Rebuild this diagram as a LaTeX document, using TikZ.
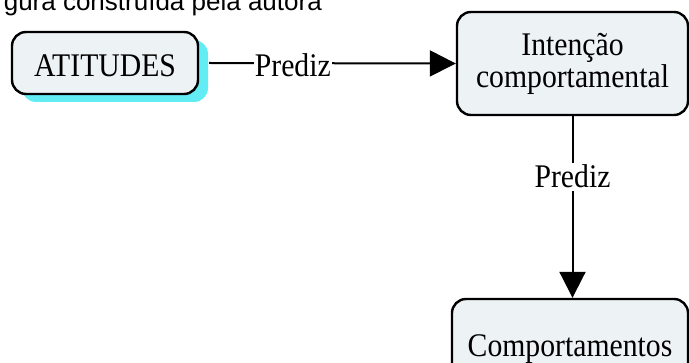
\documentclass[tikz,border=0pt]{standalone}
\usepackage{fontspec}
\usetikzlibrary{arrows.meta}
\newfontfamily\diagfont[FakeStretch=0.9]{Liberation Serif}
\newfontfamily\capfont{Liberation Sans}
\definecolor{boxfill}{HTML}{EDF2F5}
\definecolor{shadowcyan}{HTML}{62EDF4}
\tikzset{
  concept/.style={draw=black, line width=2.4pt, fill=boxfill, rounded corners=14pt,
    font=\diagfont\fontsize{33}{32}\selectfont, align=center, inner sep=0pt},
  link/.style={line width=2pt, draw=black},
  linkarrow/.style={link, -{Triangle[length=26pt,width=26pt]}},
  linklabel/.style={fill=white, inner xsep=1pt, inner ysep=1pt,
    font=\diagfont\fontsize{33}{32}\selectfont}
}
\begin{document}
\begin{tikzpicture}[x=1pt,y=-1pt]
\useasboundingbox (0,0) rectangle (689,363);
\clip (0,0) rectangle (689,363);
% caption
\node[font=\capfont\fontsize{26}{30}\selectfont, anchor=base east, inner sep=0pt] (cap) at (322,11) {gura construída pela autora};
% shadow of ATITUDES
\fill[shadowcyan, rounded corners=14pt] (22,40) rectangle (208,102);
% nodes
\node[concept, minimum width=186pt, minimum height=62pt, text height=28pt, text depth=0pt] (att) at (105,63) {ATITUDES};
\node[concept, minimum width=231pt, minimum height=103pt] (int) at (572.5,63.5) {Intenção\\comportamental};
\node[concept, minimum width=236pt, minimum height=101pt] (comp) at (570,349.5) {Comportamentos};
% connectors
\draw[linkarrow] ([xshift=10pt]att.east) -- node[linklabel, pos=0.339, text height=26pt, text depth=0pt] (lab1) {Prediz} (int.west);
\draw[linkarrow] (int.south) -- node[linklabel, pos=0.337, text height=23pt, text depth=3pt] (lab2) {Prediz} (int.south |- comp.north);
\end{tikzpicture}
\end{document}
